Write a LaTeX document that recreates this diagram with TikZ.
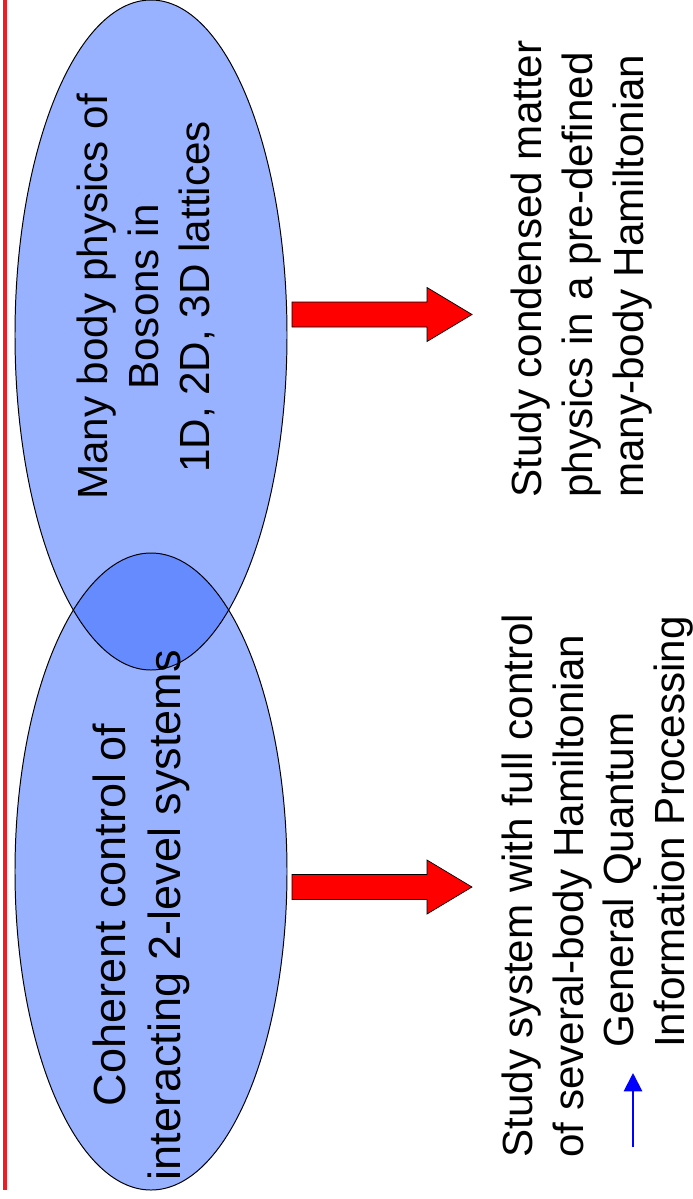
\documentclass[tikz,border=0pt]{standalone}
\usepackage{fontspec}
\setmainfont{Liberation Sans}
\usepackage{tikz}
\usetikzlibrary{arrows.meta}
\definecolor{bubbleblue}{HTML}{3365FF}
\definecolor{arrowred}{HTML}{FF0000}
\definecolor{linkblue}{HTML}{0000FF}
\definecolor{rulered}{HTML}{EE1C24}

\begin{document}
\begin{tikzpicture}[
    x=0.025cm, y=-0.025cm,
    every node/.style={font=\fontsize{30}{36}\selectfont, inner sep=0pt},
    bubble/.style={fill=bubbleblue, fill opacity=0.5},
    bubbletext/.style={rotate=90, align=center, anchor=north},
    sidetext/.style={rotate=90, align=left, anchor=north west},
    blockarrow/.style={fill=arrowred, draw=black, line width=0.5pt},
    linkarrow/.style={-{Triangle[length=13pt, width=13pt]}, linkblue, line width=1.4pt}
]
    \useasboundingbox (0,0) rectangle (692,1199);

    % red rule on the left
    \coordinate (ruletop) at (5,0);
    \coordinate (rulebot) at (5,1190);
    \draw[rulered, line width=2.2pt] (ruletop) -- (rulebot);

    % === ELLIPSES ===
    \coordinate (bosons) at (151,335);
    \coordinate (qubits) at (151,871.5);
    \fill[bubble] (bosons) ellipse [x radius=136, y radius=335];
    \fill[bubble] (qubits) ellipse [x radius=136, y radius=318.5];
    \draw[line width=0.7pt] (bosons) ellipse [x radius=136, y radius=335];
    \draw[line width=0.7pt] (qubits) ellipse [x radius=136, y radius=318.5];

    \node[bubbletext] (bosonstext) at (77,297) {Many body physics of\\Bosons in\\1D, 2D, 3D lattices};
    \node[bubbletext, font=\fontsize{32}{39}\selectfont] (qubitstext) at (93,915) {Coherent control of\\interacting 2-level systems};

    % === RED ARROWS ===
    \coordinate (toptail) at (292,314.5);
    \coordinate (bottail) at (292,887);
    \draw[blockarrow] (toptail) ++(0,-12.5) -- ++(135,0) -- ++(0,-14.5) -- ++(45,27)
        -- ++(-45,27) -- ++(0,-14.5) -- ++(-135,0) -- cycle;
    \draw[blockarrow] (bottail) ++(0,-12.5) -- ++(135,0) -- ++(0,-14.5) -- ++(45,27)
        -- ++(-45,27) -- ++(0,-14.5) -- ++(-135,0) -- cycle;

    % === OUTCOMES ===
    \node[sidetext] (condensed) at (511,498) {Study condensed matter\\physics in a pre-defined\\many-body Hamiltonian};
    \node[sidetext] (fullcontrol) at (502,1158) {Study system with full control\\of several-body Hamiltonian};
    \node[sidetext] (qip) at (603,1048) {General Quantum\\Information Processing};

    % blue arrow
    \coordinate (qiptail) at (633,1147);
    \coordinate (qiptip) at (633,1073);
    \draw[linkarrow] (qiptail) -- (qiptip);
\end{tikzpicture}
\end{document}
